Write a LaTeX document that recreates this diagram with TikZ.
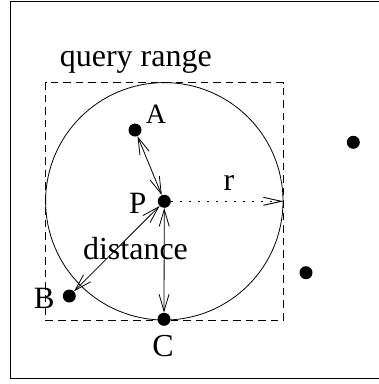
\documentclass[tikz,border=0pt]{standalone}
\usepackage{fontspec}
\setmainfont{Liberation Serif}
\usetikzlibrary{arrows.meta}

\begin{document}
\begin{tikzpicture}[x=1pt,y=-1pt,pt/.style={circle,fill=black,inner sep=0pt,minimum size=13pt},tag/.style={anchor=base,inner sep=0pt,font=\fontsize{32}{36}\selectfont},link/.style={line width=0.8pt,{Straight Barb[length=17pt,width=10pt]}-{Straight Barb[length=17pt,width=10pt]}}]
\useasboundingbox (0,0) rectangle (379,384);
\coordinate (frameNW) at (10.5,1.5);
\coordinate (frameSE) at (386,378.5);
\draw[line width=1.6pt] (frameNW) rectangle (frameSE);
\coordinate (P) at (164.3,201.3);
\coordinate (A) at (135,130);
\coordinate (B) at (69.3,296);
\coordinate (C) at (164,319.3);
\coordinate (D) at (353.3,142.3);
\coordinate (E) at (306,272.7);
\node[draw,dash pattern=on 7.5pt off 5pt,line width=0.8pt,minimum size=237.6pt,inner sep=0pt] (square) at (P) {};
\node[draw,circle,line width=0.8pt,minimum size=237.4pt,inner sep=0pt] (range) at (P) {};
\node[pt] (p) at (P) {};
\node[pt] (a) at (A) {};
\node[pt] (b) at (B) {};
\node[pt] (c) at (C) {};
\node[pt] (d) at (D) {};
\node[pt] (e) at (E) {};
\draw[link] (a) -- (p);
\draw[link] (b) -- (p);
\draw[link] (c) -- (p);
\draw[line width=0.9pt,dash pattern=on 1.5pt off 7.5pt,-{Straight Barb[length=18pt,width=8pt]}] (p) -- (range.east);
\node[tag] (qlabel) at (135.8,66.7) {query range};
\node[tag,font=\fontsize{28}{32}\selectfont] (alabel) at (156,123.3) {A};
\node[tag,font=\fontsize{31}{35}\selectfont] (plabel) at (137.7,213) {P};
\node[tag] (rlabel) at (229,190) {r};
\node[tag] (dlabel) at (135.5,259.3) {distance};
\node[tag,font=\fontsize{31}{35}\selectfont] (blabel) at (44.2,308.3) {B};
\node[tag] (clabel) at (163,356) {C};
\end{tikzpicture}
\end{document}
